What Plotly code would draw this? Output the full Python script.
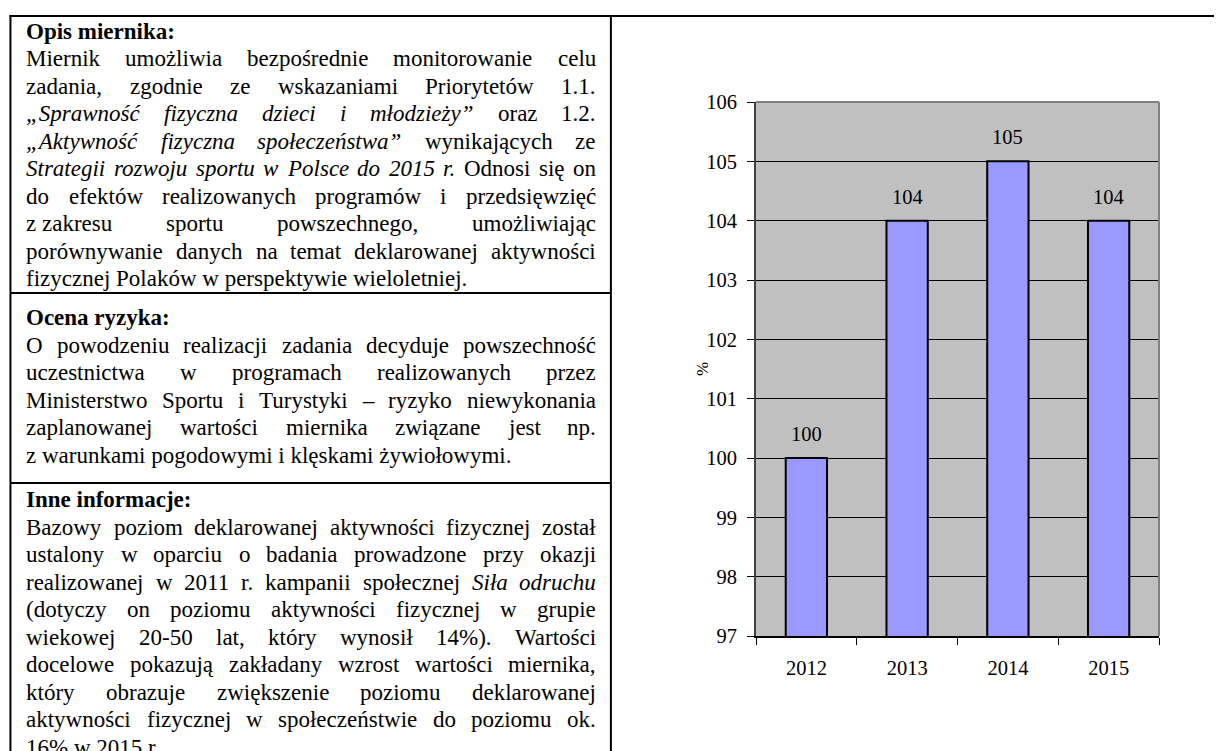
import glob
import re
import plotly.graph_objects as go

# ---------------- data ----------------
years = ["2012", "2013", "2014", "2015"]
values = [100, 104, 105, 104]
y_ticks = [97, 98, 99, 100, 101, 102, 103, 104, 105, 106]
y_title = "%"

heading_1 = "Opis miernika:"
lines_1 = [
    "Miernik umożliwia bezpośrednie monitorowanie celu",
    "zadania, zgodnie ze wskazaniami Priorytetów 1.1.",
    "<i>„Sprawność fizyczna dzieci i młodzieży”</i> oraz 1.2.",
    "<i>„Aktywność fizyczna społeczeństwa”</i> wynikających ze",
    "<i>Strategii rozwoju sportu w Polsce do 2015 r.</i> Odnosi się on",
    "do efektów realizowanych programów i przedsięwzięć",
    "z\u00a0zakresu sportu powszechnego, umożliwiając",
    "porównywanie danych na temat deklarowanej aktywności",
    "fizycznej Polaków w perspektywie wieloletniej.",
]
heading_2 = "Ocena ryzyka:"
lines_2 = [
    "O powodzeniu realizacji zadania decyduje powszechność",
    "uczestnictwa w programach realizowanych przez",
    "Ministerstwo Sportu i Turystyki – ryzyko niewykonania",
    "zaplanowanej wartości miernika związane jest np.",
    "z\u00a0warunkami pogodowymi i klęskami żywiołowymi.",
]
heading_3 = "Inne informacje:"
lines_3 = [
    "Bazowy poziom deklarowanej aktywności fizycznej został",
    "ustalony w oparciu o badania prowadzone przy okazji",
    "realizowanej w 2011 r. kampanii społecznej <i>Siła odruchu</i>",
    "(dotyczy on poziomu aktywności fizycznej w grupie",
    "wiekowej 20-50 lat, który wynosił 14%). Wartości",
    "docelowe pokazują zakładany wzrost wartości miernika,",
    "który obrazuje zwiększenie poziomu deklarowanej",
    "aktywności fizycznej w społeczeństwie do poziomu ok.",
    "16% w 2015 r.",
]

# ---------------- layout constants ----------------
OFF = 8                      # page offset of the figure (body margin)
FIG_W, FIG_H = 1222 - OFF, 751 - OFF
# plot area in page pixels: left 756, right 1158.7, top 102, bottom 636
M_L = 756 - OFF
M_T = 102 - OFF
M_R = FIG_W - (1158.7 - OFF)
M_B = FIG_H - (636 - OFF)
PW = FIG_W - M_L - M_R
PH = FIG_H - M_T - M_B
FONT = "Liberation Serif"
TXT_FS = 23
CH_FS = 20.5
TXT_LEFT, TXT_RIGHT = 26, 595
LINE_H = 27.5


def px_x(px):
    """page pixel x -> paper coordinate"""
    return (px - OFF - M_L) / PW


def px_y(py):
    """page pixel y -> paper coordinate"""
    return (FIG_H - M_B - (py - OFF)) / PH


# ---------------- text measuring ----------------
_pil = {}
try:
    from PIL import ImageFont

    def _find(name):
        c = glob.glob("/usr/share/fonts/**/" + name, recursive=True)
        c += glob.glob("/usr/local/share/fonts/**/" + name, recursive=True)
        return c[0] if c else None

    for st, fn in (("r", "LiberationSerif-Regular.ttf"), ("i", "LiberationSerif-Italic.ttf"),
                   ("b", "LiberationSerif-Bold.ttf")):
        p = _find(fn)
        if p:
            _pil[st] = ImageFont.truetype(p, 100)
except Exception:
    _pil = {}

_R = dict(zip("abcdefghijklmnopqrstuvwxyz",
              [444, 500, 444, 500, 444, 333, 500, 500, 278, 278, 500, 278, 778, 500, 500, 500, 500, 333, 389, 278,
               500, 500, 722, 500, 500, 444]))
_R.update(dict(zip("ABCDEFGHIJKLMNOPQRSTUVWXYZ",
                   [722, 667, 667, 722, 611, 556, 722, 722, 333, 389, 722, 611, 889, 722, 722, 556, 722, 667, 556,
                    611, 722, 722, 944, 722, 722, 611])))
_R.update({" ": 250, "\u00a0": 250, ".": 250, ",": 250, ":": 278, "-": 333, "(": 333, ")": 333, "%": 833,
           "„": 444, "”": 444, "–": 500, "ą": 444, "ć": 444, "ę": 444, "ł": 278, "ń": 500, "ó": 500, "ś": 389,
           "ź": 444, "ż": 444})
_I = dict(zip("abcdefghijklmnopqrstuvwxyz",
              [500, 500, 444, 500, 444, 278, 500, 500, 278, 278, 444, 278, 722, 500, 500, 500, 500, 389, 389, 278,
               500, 444, 667, 444, 444, 389]))
_I.update({" ": 250, "\u00a0": 250, ".": 250, ",": 250, "„": 556, "”": 556, "S": 500, "A": 611, "P": 611,
           "ą": 500, "ć": 444, "ę": 444, "ł": 278, "ń": 500, "ó": 500, "ś": 389, "ź": 389, "ż": 389})
_B = {" ": 250, "a": 500, "c": 444, "e": 444, "f": 333, "i": 278, "j": 333, "k": 556, "m": 833, "n": 556,
      "o": 500, "p": 556, "r": 444, "s": 389, "y": 500, "z": 444, "I": 389, "O": 778, ":": 333}
_TAB = {"r": _R, "i": _I, "b": _B}


def text_w(s, style, fs):
    s2 = s.replace("\u00a0", " ")
    if style in _pil:
        return _pil[style].getlength(s2) * fs / 100.0
    t = _TAB[style]
    return sum(t.get(ch, 500) for ch in s) * fs / 1000.0


def parse_words(line):
    """Return list of words; each word = list of (text, style)."""
    parts = re.split(r"(<i>|</i>)", line)
    style = "r"
    words = [[]]
    for p in parts:
        if p == "<i>":
            style = "i"
            continue
        if p == "</i>":
            style = "r"
            continue
        chunks = p.split(" ")
        for k, ch in enumerate(chunks):
            if k > 0:
                words.append([])
            if ch:
                words[-1].append((ch, style))
    return [w for w in words if w]


def word_html(word):
    out = ""
    for t, st in word:
        t = t.replace("\u00a0", " ")
        out += f"<i>{t}</i>" if st == "i" else t
    return out


def word_width(word, fs):
    return sum(text_w(t, st, fs) for t, st in word)


annotations = []


def add_text(px, baseline, html, fs=TXT_FS):
    mid = baseline - 0.3375 * fs
    annotations.append(dict(
        x=px_x(px), y=px_y(mid), xref="paper", yref="paper", xanchor="left", yanchor="middle",
        text=html, showarrow=False, borderpad=0, font=dict(family=FONT, size=fs, color="black")))


def add_section(heading, lines, base0):
    add_text(TXT_LEFT, base0, f"<b>{heading}</b>")
    n = len(lines)
    for k, line in enumerate(lines):
        bl = base0 + (k + 1) * LINE_H
        words = parse_words(line)
        justify = k < n - 1 and len(words) > 1
        if not justify:
            add_text(TXT_LEFT, bl, " ".join(word_html(w) for w in words))
            continue
        widths = [word_width(w, TXT_FS) for w in words]
        gap = (TXT_RIGHT - TXT_LEFT - sum(widths)) / (len(words) - 1)
        x = TXT_LEFT
        for w, wd in zip(words, widths):
            add_text(x, bl, word_html(w))
            x += wd + gap


add_section(heading_1, lines_1, 39.0)
add_section(heading_2, lines_2, 325.5)
add_section(heading_3, lines_3, 507.5)

# ---------------- table frame ----------------
shapes = []


def hline(x0, x1, y, w=2, color="black"):
    shapes.append(dict(type="line", xref="paper", yref="paper", x0=px_x(x0), x1=px_x(x1),
                       y0=px_y(y), y1=px_y(y), line=dict(color=color, width=w)))


def vline(x, y0, y1, w=2, color="black"):
    shapes.append(dict(type="line", xref="paper", yref="paper", x0=px_x(x), x1=px_x(x),
                       y0=px_y(y0), y1=px_y(y1), line=dict(color=color, width=w)))


hline(10, 1230, 16)
vline(11, 15, 760)
vline(611, 15, 760)
hline(11, 611, 293)
hline(11, 611, 483)

# plot-area border (top and right, grey)
shapes.append(dict(type="line", xref="paper", yref="paper", x0=0, x1=1, y0=1, y1=1,
                   line=dict(color="#808080", width=2)))
shapes.append(dict(type="line", xref="paper", yref="paper", x0=1, x1=1, y0=0, y1=1,
                   line=dict(color="#808080", width=2)))

# ---------------- chart ----------------
x_pos = list(range(len(years)))
fig = go.Figure()
fig.add_trace(go.Bar(
    x=x_pos, y=values, width=0.41,
    marker=dict(color="#9999FF", line=dict(color="black", width=2)),
    hoverinfo="skip",
))

for xp, v in zip(x_pos, values):
    annotations.append(dict(x=xp, y=v, xref="x", yref="y", text=str(v), showarrow=False,
                            yanchor="middle", yshift=24, font=dict(family=FONT, size=CH_FS, color="black")))

annotations.append(dict(x=px_x(702), y=0.5, xref="paper", yref="paper", text=y_title, textangle=-90,
                        showarrow=False, xanchor="center", yanchor="middle",
                        font=dict(family=FONT, size=17, color="black")))

fig.update_layout(
    width=FIG_W, height=FIG_H,
    margin=dict(l=M_L, r=M_R, t=M_T, b=M_B, pad=0),
    paper_bgcolor="white", plot_bgcolor="#C0C0C0",
    showlegend=False,
    font=dict(family=FONT, size=CH_FS, color="black"),
    annotations=annotations,
    shapes=shapes,
)
fig.update_yaxes(
    range=[97, 106], tickvals=y_ticks, ticktext=[str(t) for t in y_ticks],
    showgrid=True, gridcolor="black", gridwidth=1, zeroline=False,
    showline=True, linecolor="#404040", linewidth=2,
    ticks="outside", ticklen=7, tickcolor="black", tickwidth=1,
    tickfont=dict(family=FONT, size=CH_FS, color="black"), ticklabelstandoff=6,
)
fig.update_xaxes(
    range=[-0.5, len(years) - 0.5], tickvals=x_pos, ticktext=years,
    showgrid=False, zeroline=False,
    showline=True, linecolor="black", linewidth=2,
    ticks="outside", ticklen=7, tickcolor="rgba(0,0,0,0)", tickwidth=1,
    minor=dict(tickvals=[i - 0.5 for i in range(len(years) + 1)], ticks="outside", ticklen=7,
               tickcolor="black", tickwidth=1, showgrid=False),
    tickfont=dict(family=FONT, size=CH_FS, color="black"), ticklabelstandoff=5,
)

fig.write_html("out.html")
